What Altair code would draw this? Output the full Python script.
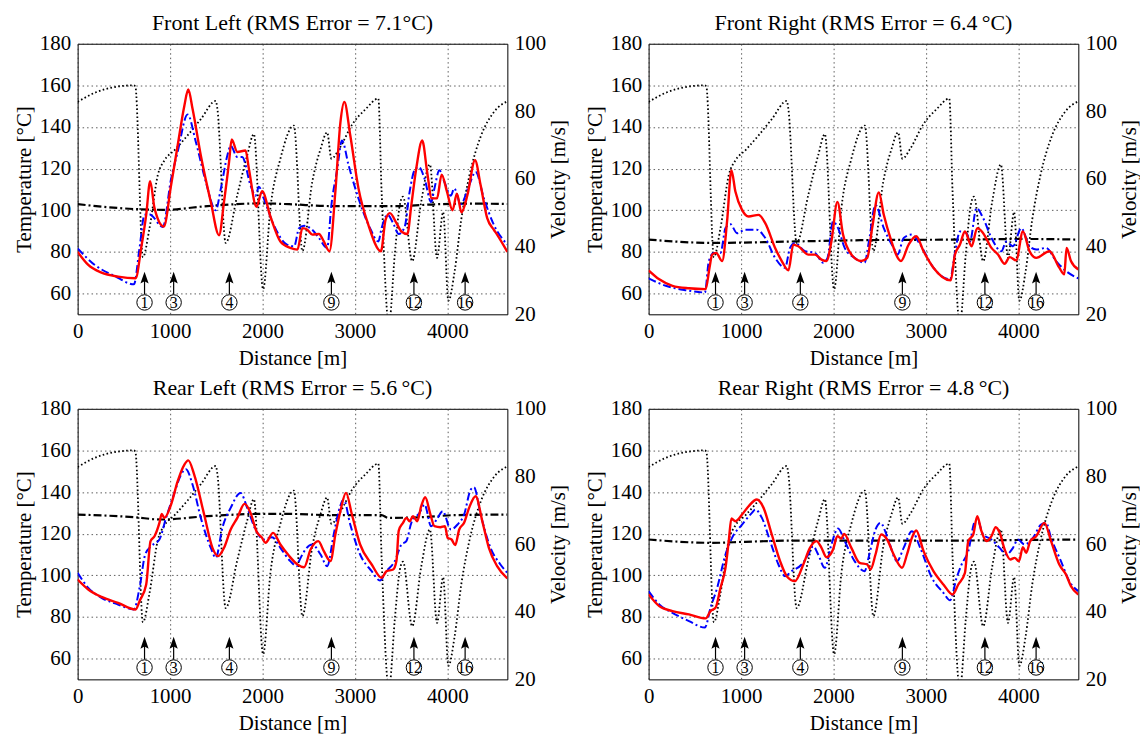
import altair as alt
import pandas as pd

FONT = "Liberation Serif"
X_MAX = 4650

# ---- velocity (right axis), same for all panels: (distance m, velocity m/s)
VELOCITY = [(0, 82.8), (186, 85.5), (401, 87.2), (609, 87.7), (625, 87.3), (706, 36.9), (778, 45.5),
            (867, 61.1), (939, 65.5), (1047, 68.5), (1190, 72.9), (1333, 77.7), (1495, 83.1),
            (1513, 80.6), (1602, 41.1), (1728, 55.3), (1835, 67.0), (1907, 73.3), (2007, 27.4),
            (2086, 51.4), (2194, 66.0), (2340, 75.8), (2432, 38.7), (2539, 59.2), (2629, 68.9),
            (2700, 73.8), (2746, 66.0), (2832, 69.0), (2975, 76.3), (3118, 80.7), (3254, 83.8),
            (3289, 56.3), (3368, 17.0), (3432, 37.7), (3486, 52.3), (3521, 54.8), (3620, 35.7),
            (3718, 53.3), (3812, 64.3), (3889, 36.7), (3955, 50.2), (4012, 24.0), (4080, 32.8),
            (4150, 47.8), (4240, 61.1), (4365, 72.8), (4510, 80.0), (4650, 83.0)]

# ---- corner markers
ARROW_D = [724, 1039, 1642, 2746, 3639, 4193]
ARROW_LABELS = ["1", "3", "4", "9", "12", "16"]

TITLES = ["Front Left (RMS Error = 7.1°C)", "Front Right (RMS Error = 6.4\u2009°C)",
          "Rear Left (RMS Error = 5.6\u2009°C)", "Rear Right (RMS Error = 4.8\u2009°C)"]

# ---- Front Left
FL_MEAS = [(0, 80), (115, 73.7), (258, 70), (437, 68.1), (627, 67.3), (688, 81.9), (742, 97.8),
           (785, 114), (832, 101), (932, 92.2), (1011, 112), (1082, 131), (1154, 150), (1197, 158),
           (1244, 148.6), (1333, 126.3), (1441, 104), (1530, 88), (1584, 104), (1638, 123),
           (1667, 134), (1728, 128), (1817, 128.7), (1853, 120), (1935, 101.7), (1996, 109.2),
           (2086, 97), (2194, 85), (2301, 81.9), (2379, 81.1), (2432, 91.4), (2486, 90.6),
           (2539, 88.3), (2611, 88.6), (2664, 85), (2725, 80.3), (2789, 109), (2843, 142),
           (2886, 152), (2950, 136), (3039, 110.5), (3146, 93), (3282, 80.3), (3332, 95.4),
           (3379, 98.6), (3450, 93.8), (3504, 89.8), (3568, 88.6), (3611, 102.5), (3664, 120),
           (3729, 133.5), (3782, 118.4), (3832, 105.7), (3889, 105.7), (3939, 117.1), (3996, 109),
           (4057, 100), (4104, 108), (4154, 99), (4218, 107.3), (4300, 124), (4361, 112),
           (4432, 96.2), (4504, 90.6), (4539, 88.3), (4650, 80)]
FL_MODEL = [(0, 81.6), (186, 73.7), (401, 68.4), (609, 64.4), (670, 81.9), (724, 97.8), (778, 98),
            (921, 92), (1011, 115), (1082, 128), (1190, 146), (1280, 132.7), (1387, 113.7),
            (1495, 100), (1548, 110), (1620, 126.3), (1656, 131), (1728, 125.6), (1781, 125.6),
            (1871, 112), (1925, 107), (1961, 111.3), (2014, 105.7), (2122, 93), (2265, 83.5),
            (2343, 82.7), (2396, 91.4), (2450, 92.5), (2539, 90.6), (2611, 86.7), (2700, 81.9),
            (2746, 102.5), (2807, 119.2), (2861, 133.5), (2932, 121.6), (3039, 105.7), (3164, 91.4),
            (3254, 85), (3289, 91.4), (3354, 97.8), (3414, 93.8), (3475, 88.6), (3539, 92),
            (3593, 109), (3646, 119.2), (3693, 120.8), (3754, 115.2), (3825, 104), (3861, 110.5),
            (3914, 119.2), (3968, 113.7), (4039, 107), (4075, 110.5), (4146, 102.9), (4236, 112),
            (4307, 118.4), (4396, 105.7), (4504, 93), (4650, 83.5)]
FL_REF = [(0, 102.9), (652, 100.5), (939, 100.2), (1405, 102), (1978, 103.3), (2289, 102.9),
          (2754, 102), (3468, 102), (3896, 102.9), (4254, 103.2), (4650, 103)]

# ---- Front Right
FR_MEAS = [(0, 71.1), (115, 66.8), (258, 63.7), (437, 62.5), (617, 62.1), (659, 72.4), (688, 78.7),
           (731, 79.5), (796, 75.6), (849, 94.6), (896, 119.2), (939, 109), (1011, 100.2),
           (1082, 97), (1190, 97.8), (1262, 93.8), (1369, 81.9), (1441, 75.6), (1513, 71.1),
           (1566, 83.5), (1620, 82.7), (1728, 78.7), (1799, 78.7), (1871, 76.3), (1925, 75.6),
           (1978, 85), (2043, 104), (2104, 88.3), (2194, 78.7), (2301, 75.6), (2366, 77.1),
           (2419, 91.4), (2491, 108.5), (2545, 97.8), (2616, 86.7), (2731, 75.6), (2814, 83.5),
           (2896, 87.5), (2975, 80.3), (3082, 72.4), (3269, 66.3), (3315, 78.7), (3369, 83.5),
           (3423, 89.8), (3495, 82.7), (3556, 91.4), (3620, 89), (3710, 81.9), (3781, 78.7),
           (3853, 74.3), (3907, 77.5), (3978, 75.9), (4050, 89.8), (4122, 80.3), (4194, 77.1),
           (4337, 80.3), (4444, 72.4), (4498, 69.2), (4523, 81.9), (4570, 75.6), (4650, 71.6)]
FR_MODEL = [(0, 67.3), (186, 63.7), (401, 61.6), (609, 60.5), (652, 75.6), (706, 79.5), (778, 79.5),
            (832, 91.4), (885, 93.3), (957, 89), (1047, 90.6), (1172, 90.6), (1262, 86.7),
            (1369, 77.1), (1477, 72.4), (1530, 81.9), (1584, 84.3), (1692, 80.3), (1799, 79.5),
            (1889, 74.8), (1935, 77), (1996, 94.6), (2050, 91.4), (2122, 81.9), (2229, 77.1),
            (2337, 74.8), (2384, 85), (2455, 102.5), (2545, 91.4), (2652, 81.9), (2695, 78.7),
            (2760, 86.7), (2849, 88.3), (2939, 83.5), (3082, 72.4), (3262, 66.8), (3315, 79.5),
            (3369, 89.8), (3441, 89), (3477, 85), (3548, 101), (3620, 96.2), (3710, 86.7),
            (3817, 80.3), (3871, 85), (3943, 82.7), (4032, 91.4), (4122, 82.7), (4194, 81.1),
            (4301, 81.9), (4409, 75.6), (4516, 70.8), (4650, 67.3)]
FR_REF = [(0, 85.9), (688, 84.3), (1584, 85), (2294, 85.6), (3369, 85.9), (4086, 86.2), (4650, 85.9)]

# ---- Rear Left
RL_MEAS = [(0, 98), (115, 93.2), (258, 89.6), (437, 86.8), (627, 83.6), (670, 87.6), (742, 95.6),
           (789, 116.4), (832, 118.8), (885, 125.2), (910, 129.5), (939, 127.6), (1011, 134),
           (1082, 145.1), (1154, 153.1), (1197, 155.2), (1262, 148.3), (1369, 129.2), (1459, 113.2),
           (1520, 109.2), (1584, 113.2), (1656, 122), (1728, 127.6), (1806, 134.3), (1871, 130),
           (1935, 121.2), (1996, 118), (2032, 115.6), (2115, 120.4), (2194, 114.8), (2283, 109.6),
           (2379, 105.2), (2450, 103.9), (2521, 112.4), (2604, 116.4), (2664, 111.6), (2736, 106.8),
           (2789, 119.6), (2843, 130.8), (2904, 139.6), (2968, 129.2), (3057, 114.8), (3182, 105.2),
           (3289, 98.8), (3343, 102), (3414, 102.8), (3450, 107), (3475, 121.5), (3521, 125.2),
           (3557, 127.6), (3593, 126), (3629, 128.4), (3675, 126), (3718, 133.2), (3761, 137.5),
           (3818, 129.2), (3861, 123.6), (3925, 123.1), (3975, 123.6), (4004, 118), (4046, 117.2),
           (4086, 114.5), (4129, 122), (4182, 125.2), (4236, 132.4), (4307, 138), (4379, 126),
           (4450, 113.2), (4539, 104.4), (4650, 98.5)]
RL_MODEL = [(0, 101.2), (115, 94), (258, 89.2), (437, 86), (609, 83.6), (670, 94), (731, 110),
            (796, 114), (885, 117.2), (957, 127.6), (1047, 139.6), (1118, 148.3), (1172, 151),
            (1244, 143.5), (1333, 127.6), (1441, 113.2), (1495, 108.4), (1566, 122.8), (1656, 132.4),
            (1763, 139.6), (1835, 132.4), (1925, 122), (2014, 117.2), (2104, 118.3), (2194, 113.2),
            (2301, 106.8), (2373, 104.4), (2396, 106.8), (2539, 114.8), (2629, 110), (2700, 104.4),
            (2771, 119.6), (2825, 130.8), (2879, 136.4), (2950, 124.4), (3057, 110), (3182, 102),
            (3271, 97.5), (3343, 102), (3432, 106.8), (3504, 114.8), (3557, 116.4), (3611, 125.2),
            (3700, 130), (3754, 134), (3825, 123.6), (3896, 127.6), (3950, 130.8), (4039, 122),
            (4111, 124.4), (4182, 129.2), (4254, 141.2), (4289, 142.3), (4361, 129.2), (4468, 113.2),
            (4575, 105.2), (4650, 101.2)]
RL_REF = [(0, 129.2), (617, 127.9), (903, 126.8), (1405, 128.4), (1978, 129.5), (2289, 129.5),
          (2754, 128.9), (3289, 128.9), (3361, 127.6), (3718, 127.9), (4075, 128.9), (4650, 129.2)]

# ---- Rear Right
RR_MEAS = [(0, 90.8), (115, 85.2), (258, 82.8), (437, 81.2), (617, 79.3), (670, 82.8), (724, 84.4),
           (778, 94), (832, 103.6), (867, 116.4), (896, 127.3), (939, 126), (1011, 129.2),
           (1082, 133.2), (1172, 136.4), (1244, 132.4), (1333, 119.6), (1423, 106.8), (1495, 99.6),
           (1584, 97.2), (1674, 105.2), (1746, 113.2), (1817, 116.4), (1871, 113.2), (1925, 108.7),
           (1996, 112.4), (2043, 118.8), (2086, 117.7), (2115, 119.9), (2194, 113.2), (2283, 106),
           (2366, 105.2), (2401, 102.8), (2455, 110), (2516, 119.6), (2581, 117.2), (2652, 110),
           (2742, 103.6), (2796, 110), (2849, 118), (2896, 121.5), (2975, 111.6), (3082, 102),
           (3190, 95.6), (3290, 90.8), (3351, 95.6), (3423, 101.2), (3459, 116.4), (3513, 119.6),
           (3556, 128.4), (3602, 121.2), (3656, 116.4), (3710, 118.8), (3756, 123.1), (3799, 120.4),
           (3853, 112.4), (3914, 107.6), (3961, 108.4), (4007, 106.8), (4050, 113.5), (4086, 110.8),
           (4129, 116.4), (4194, 118.8), (4283, 125.2), (4355, 116.4), (4444, 105.2), (4516, 100.4),
           (4570, 94.8), (4650, 90.8)]
RR_MODEL = [(0, 92.4), (115, 86), (258, 82), (437, 78), (609, 74.9), (670, 84.4), (742, 94),
            (832, 110), (903, 118), (1011, 124.4), (1118, 130), (1154, 131.6), (1226, 127.6),
            (1315, 116.4), (1405, 105.2), (1477, 99.6), (1548, 102), (1656, 105.2), (1728, 110),
            (1781, 114), (1835, 110), (1907, 103.6), (1978, 114.8), (2050, 122.5), (2122, 116.4),
            (2229, 106.8), (2337, 102), (2384, 109.2), (2455, 122), (2509, 125.2), (2581, 118.8),
            (2688, 106.8), (2760, 113.2), (2849, 121.2), (2939, 113.2), (3065, 98.8), (3190, 91.6),
            (3262, 88), (3333, 98.8), (3387, 105.2), (3459, 111.6), (3530, 126), (3556, 126.8),
            (3620, 119.6), (3710, 117.2), (3799, 113.2), (3871, 110), (3943, 113.2), (3996, 117.2),
            (4068, 114.8), (4158, 118), (4247, 124.4), (4301, 125.2), (4355, 118), (4462, 106.8),
            (4552, 97.2), (4650, 92.4)]
RR_REF = [(0, 117.2), (688, 115.6), (1047, 116.1), (1584, 116.7), (2294, 116.7), (3369, 116.7),
          (4086, 117), (4650, 117.2)]

PANEL_DATA = [(FL_MEAS, FL_MODEL, FL_REF), (FR_MEAS, FR_MODEL, FR_REF),
              (RL_MEAS, RL_MODEL, RL_REF), (RR_MEAS, RR_MODEL, RR_REF)]

ARROW_PATH = "M0,-1L0.55,0.6L0,0.3L-0.55,0.6Z"
W, H = 432, 272

xscale = alt.Scale(domain=[0, X_MAX], nice=False, zero=False)
tscale = alt.Scale(domain=[50, 180], nice=False, zero=False)
vscale = alt.Scale(domain=[20, 100], nice=False, zero=False)

common = dict(labelFont=FONT, titleFont=FONT, labelFontSize=21, titleFontSize=21,
              titleFontWeight="normal", labelColor="black", titleColor="black",
              ticks=False, domain=False)
xaxis = alt.Axis(title="Distance [m]", values=[0, 1000, 2000, 3000, 4000], format="d",
                 grid=True, gridDash=[1.5, 3], gridColor="#333", gridWidth=0.8,
                 labelPadding=6, titlePadding=6, labelFlush=False, **common)
taxis = alt.Axis(title="Temperature [°C]", values=[60, 80, 100, 120, 140, 160, 180], orient="left",
                 grid=True, gridDash=[1.5, 3], gridColor="#333", gridWidth=0.8,
                 labelPadding=7, titlePadding=5, **common)
vaxis = alt.Axis(title="Velocity [m/s]", values=[20, 40, 60, 80, 100], orient="right", grid=False,
                 labelPadding=7, titlePadding=2, titleAngle=270, titleBaseline="top", **common)


def xenc():
    return alt.X("d:Q", scale=xscale, axis=xaxis)


def temp_line(pairs, color, width, dash=None):
    df = pd.DataFrame(pairs, columns=["d", "T"])
    kw = dict(color=color, strokeWidth=width, clip=True, interpolate="monotone")
    if dash is not None:
        kw["strokeDash"] = dash
    return alt.Chart(df).mark_line(**kw).encode(
        x=xenc(), y=alt.Y("T:Q", scale=tscale, axis=taxis))


def panel(idx):
    meas, model, ref = PANEL_DATA[idx]
    vel_df = pd.DataFrame(VELOCITY, columns=["d", "V"])
    vel = alt.Chart(vel_df).mark_line(color="black", strokeWidth=1.8, strokeDash=[1.6, 2.4],
                                      clip=True, interpolate="monotone").encode(
        x=xenc(), y=alt.Y("V:Q", scale=vscale, axis=vaxis))

    arr_df = pd.DataFrame({"d": ARROW_D, "label": ARROW_LABELS})
    arr_df["T"] = 66.9
    arr_df["T0"] = 59.6
    arr_df["T1"] = 67.5
    arr_df["Tc"] = 55.7
    base = alt.Chart(arr_df)
    rule = base.mark_rule(color="black", strokeWidth=1.2).encode(
        x=xenc(), y=alt.Y("T0:Q", scale=tscale, axis=taxis), y2="T1:Q")
    head = base.mark_point(shape=ARROW_PATH, filled=True, color="black", size=225,
                           opacity=1).encode(
        x=xenc(), y=alt.Y("T:Q", scale=tscale, axis=taxis))
    circ = base.mark_point(shape="circle", filled=False, color="black", size=240,
                           strokeWidth=1, opacity=1).encode(
        x=xenc(), y=alt.Y("Tc:Q", scale=tscale, axis=taxis))
    txt = base.mark_text(font=FONT, fontSize=16, color="black", baseline="middle",
                         align="center", dy=1).encode(
        x=xenc(), y=alt.Y("Tc:Q", scale=tscale, axis=taxis), text="label:N")

    temps = alt.layer(
        temp_line(ref, "black", 2.2, [8, 3, 2, 3]),
        temp_line(model, "blue", 2.0, [8, 3, 2, 3]),
        temp_line(meas, "red", 2.4),
        rule, head, circ, txt,
    )
    return alt.layer(vel, temps).resolve_scale(y="independent").properties(
        width=W, height=H,
        title=alt.TitleParams(TITLES[idx], font=FONT, fontSize=22, fontWeight="normal",
                              color="black", offset=-2, anchor="middle"))


chart = alt.vconcat(
    alt.hconcat(panel(0), panel(1), spacing=15),
    alt.hconcat(panel(2), panel(3), spacing=15),
    spacing=7,
).properties(
    padding={"left": 5, "top": 1, "right": 0, "bottom": 0},
    background="white",
).configure(
    font=FONT,
).configure_axis(
    labelFont=FONT, titleFont=FONT,
).configure_title(
    font=FONT,
).configure_text(
    font=FONT,
).configure_view(stroke="black", strokeWidth=1)

chart.save("out.html", embed_options={"renderer": "svg", "actions": False})
